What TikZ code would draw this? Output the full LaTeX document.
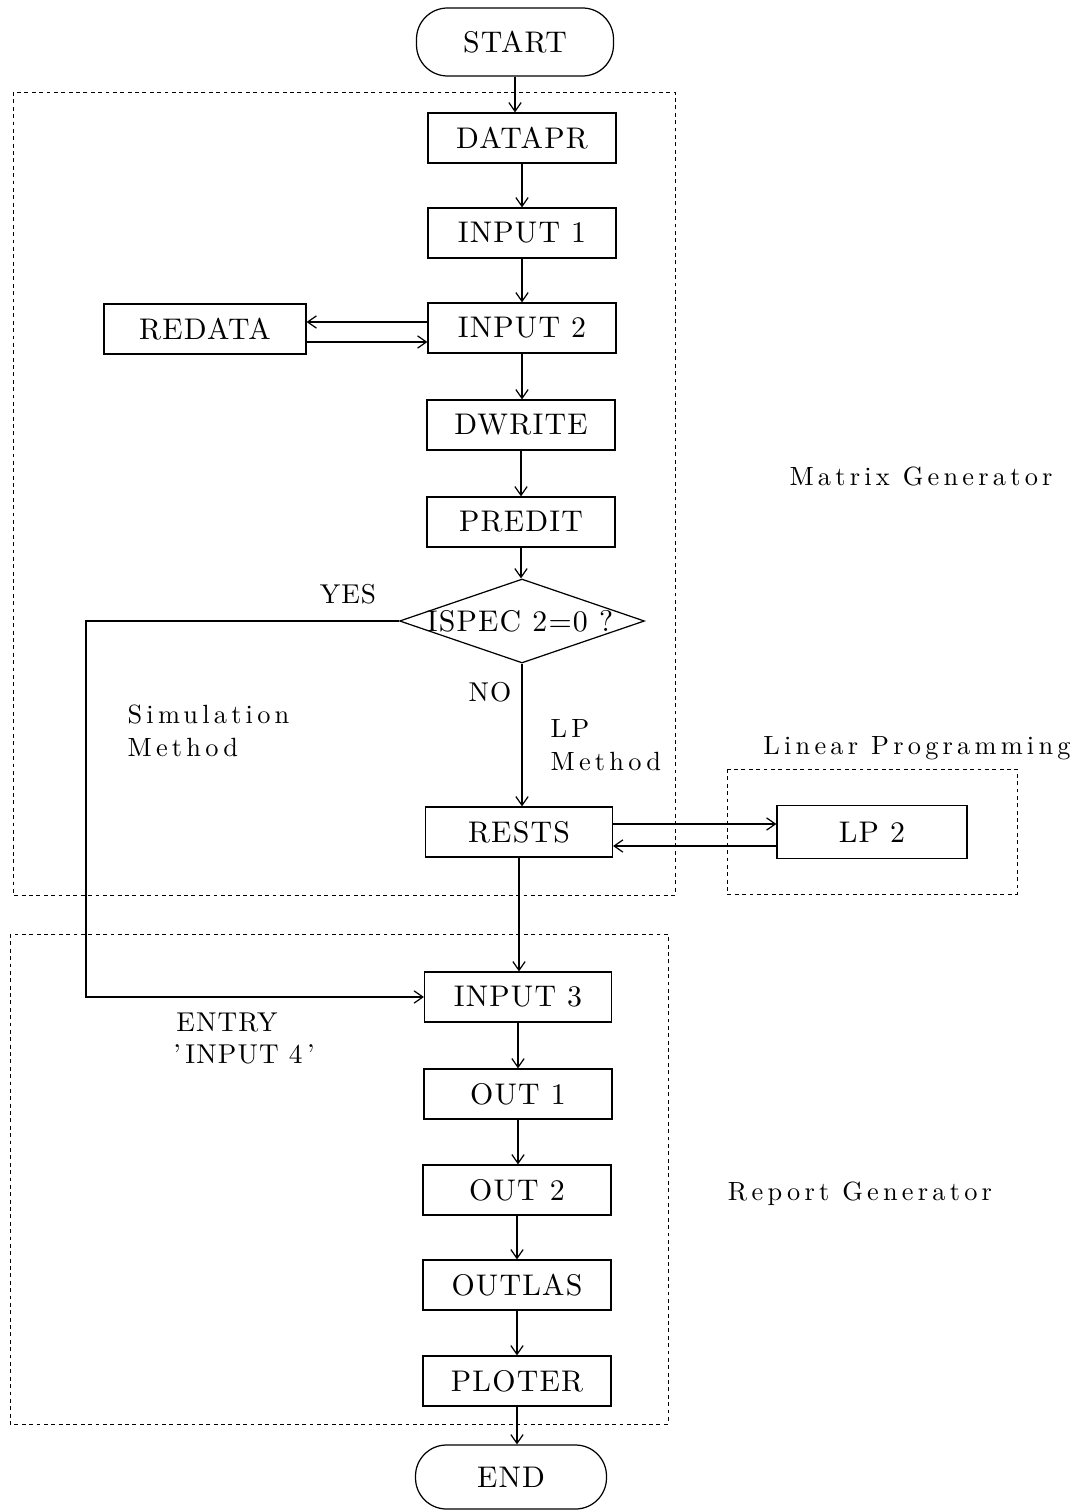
\documentclass[tikz,border=0pt]{standalone}
\usepackage{fontspec}
\usetikzlibrary{shapes.geometric,arrows.meta}
\newfontfamily\boxfont{lmroman10-regular}[Extension=.otf, LetterSpace=4]
\newfontfamily\labelfont{lmroman10-regular}[Extension=.otf, LetterSpace=16]
\begin{document}
\begin{tikzpicture}[x=0.02cm,y=-0.02cm,
  line width=0.7pt,
  txt/.style={font=\boxfont\fontsize{17}{21}\selectfont},
  tag/.style={font=\boxfont\fontsize{15.5}{19}\selectfont, inner sep=0pt},
  lbl/.style={font=\labelfont\fontsize{15}{19}\selectfont, inner sep=0pt},
  box/.style={txt, draw, minimum width=3.76cm, minimum height=1cm, inner sep=0pt},
  term/.style={txt, draw, rounded corners=0.62cm, inner sep=0pt},
  frame/.style={line width=0.5pt, dash pattern=on 2.2pt off 2pt},
  flow/.style={-{Straight Barb[length=5pt,width=7pt]}}
]
\useasboundingbox (0,0) rectangle (1073,1510);

% group frames
\draw[frame] (13,92) rectangle (675,895);
\draw[frame] (727,769) rectangle (1017,894);
\draw[frame] (10,934) rectangle (668,1424);

% terminals
\node[term, minimum width=3.94cm, minimum height=1.36cm] (start) at (515,42) {START};
\node[term, minimum width=3.82cm, minimum height=1.28cm] (end) at (511,1477) {END};

% matrix generator steps
\node[box] (datapr) at (522,138) {DATAPR};
\node[box] (in1)    at (522,233) {INPUT 1};
\node[box] (in2)    at (522,328) {INPUT 2};
\node[box, minimum width=4.04cm] (redata) at (205,329) {REDATA};
\node[box] (dwrite) at (521,425) {DWRITE};
\node[box] (predit) at (521,522) {PREDIT};
\node[draw, shape=diamond, shape aspect=2.9, inner sep=0pt,
      minimum width=4.9cm, minimum height=1.68cm] (dec) at (522,621) {};
\node[txt, inner sep=0pt] (dectxt) at (520,621) {ISPEC 2=0 ?};
\node[box, minimum width=3.74cm] (rests) at (519,832) {RESTS};
\node[box, minimum width=3.8cm, minimum height=1.06cm] (lp2) at (872,832) {LP 2};

% report generator steps
\node[box, minimum width=3.74cm] (in3)    at (518,997)  {INPUT 3};
\node[box] (out1)   at (518,1094) {OUT 1};
\node[box] (out2)   at (517,1190) {OUT 2};
\node[box] (outlas) at (517,1285) {OUTLAS};
\node[box] (ploter) at (517,1381) {PLOTER};

% main flow
\draw[flow] (start.south) -- (start.south |- datapr.north);
\draw[flow] (datapr.south) -- (datapr.south |- in1.north);
\draw[flow] (in1.south) -- (in1.south |- in2.north);
\draw[flow] (in2.south) -- (in2.south |- dwrite.north);
\draw[flow] (dwrite.south) -- (dwrite.south |- predit.north);
\draw[flow] (predit.south) -- (predit.south |- dec.north);
\draw[flow] (dec.south) -- (dec.south |- rests.north);
\draw[flow] (rests.south) -- (rests.south |- in3.north);
\draw[flow] (in3.south) -- (in3.south |- out1.north);
\draw[flow] (out1.south) -- (out1.south |- out2.north);
\draw[flow] (out2.south) -- (out2.south |- outlas.north);
\draw[flow] (outlas.south) -- (outlas.south |- ploter.north);
\draw[flow] (ploter.south) -- (ploter.south |- end.north);

% subroutine calls
\draw[flow] (in2.west |- 0,322) -- (redata.east |- 0,322);
\draw[flow] (redata.east |- 0,342) -- (in2.west |- 0,342);
\draw[flow] (rests.east |- 0,824) -- (lp2.west |- 0,824);
\draw[flow] (lp2.west |- 0,846) -- (rests.east |- 0,846);

% simulation branch
\coordinate (bend1) at (86,621);
\coordinate (bend2) at (86,997);
\draw[flow] (dec.west) -- (bend1) -- (bend2) -- (in3.west);

% labels
\node[tag] (yes) at (348,594) {YES};
\node[tag] (no)  at (490,692) {NO};
\node[lbl, align=left, anchor=west] (sim) at (127,731) {Simulation\\Method};
\node[lbl, align=left, anchor=west] (lpm) at (550,745) {LP\\Method};
\node[lbl] (lpgrp) at (917,748) {Linear Programming};
\node[lbl] (mgen)  at (921,476) {Matrix Generator};
\node[lbl] (rgen)  at (860,1194) {Report Generator};
\node[tag] (entry) at (227,1022) {ENTRY};
\node[tag] (entryname) at (244,1054) {’\,INPUT 4\,’};
\end{tikzpicture}
\end{document}
